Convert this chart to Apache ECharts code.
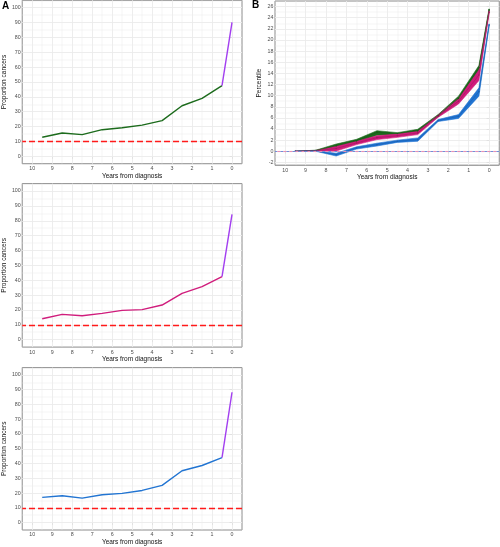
<!DOCTYPE html>
<html lang="en">
<head>
    <meta charset="UTF-8">
    <title>Years from diagnosis</title>
    <script src="https://cdn.jsdelivr.net/npm/echarts@6/dist/echarts.min.js"></script>
    <style>
        html, body { margin: 0; padding: 0; background: #fff; }
        #main { width: 500px; height: 547px; }
    </style>
</head>
<body>
<div id="main"></div>
<script>
    // panel A: proportion of cancers, one point per year before diagnosis
    const yearsA = [9.5, 8.5, 7.5, 6.5, 5.5, 4.5, 3.5, 2.5, 1.5, 0.5];
    const greenProp = [12.8, 15.7, 14.6, 17.9, 19.2, 21.0, 24.0, 34.0, 39.0, 47.5];
    const pinkProp = [14.1, 17.0, 16.1, 17.7, 19.7, 20.2, 23.3, 31.2, 35.7, 42.4];
    const blueProp = [17.1, 18.2, 16.6, 18.9, 19.8, 21.8, 25.2, 35.1, 38.7, 44.0];
    const finalYear = 0;
    const greenFinal = 90.1;
    const pinkFinal = 84.3;
    const blueFinal = 88.3;
    const chanceLevel = 10;

    // panel B: percentile with ribbons
    const yearsB = [9.5, 8.5, 7.5, 6.5, 5.5, 4.5, 3.5, 2.5, 1.5, 0.5, 0];
    const greenMid = [0, 0.15, 1.0, 1.9, 3.4, 3.2, 3.7, 6.4, 9.5, 15.0, 25.4];
    const greenLo = [0, 0.1, 0.7, 1.6, 2.9, 2.95, 3.45, 6.2, 9.1, 14.4, 25.2];
    const greenHi = [0, 0.2, 1.3, 2.15, 3.7, 3.35, 3.95, 6.6, 9.9, 15.4, 25.6];
    const pinkMid = [0, 0.1, 0.5, 1.5, 2.45, 2.8, 3.3, 6.3, 9.0, 13.7, 25.0];
    const pinkLo = [0, 0.05, 0.05, 1.2, 2.1, 2.5, 3.0, 6.1, 8.5, 12.7, 24.7];
    const pinkHi = [0, 0.15, 0.9, 1.8, 2.8, 3.1, 3.6, 6.5, 9.5, 14.6, 25.3];
    const blueMid = [0, 0.05, -0.6, 0.6, 1.2, 1.8, 2.1, 5.5, 6.3, 10.7, 22.7];
    const blueLo = [0, 0, -0.85, 0.4, 0.95, 1.6, 1.8, 5.35, 5.9, 9.9, 22.5];
    const blueHi = [0, 0.1, -0.35, 0.8, 1.45, 2.0, 2.4, 5.7, 6.6, 11.4, 22.9];

    // tick labels
    const yearTicks = [10, 9, 8, 7, 6, 5, 4, 3, 2, 1, 0];
    const yearMinor = [10.5, 9.5, 8.5, 7.5, 6.5, 5.5, 4.5, 3.5, 2.5, 1.5, 0.5, -0.5];
    const propTicks = [0, 10, 20, 30, 40, 50, 60, 70, 80, 90, 100];
    const propMinor = [-5, 5, 15, 25, 35, 45, 55, 65, 75, 85, 95, 105];
    const pctTicks = [-2, 0, 2, 4, 6, 8, 10, 12, 14, 16, 18, 20, 22, 24, 26];
    const pctMinor = [-1, 1, 3, 5, 7, 9, 11, 13, 15, 17, 19, 21, 23, 25, 27];

    const FONT = '"Liberation Sans", Arial, sans-serif';
    const GREEN = '#1c6b1c', PINK = '#d01c7c', BLUE = '#2174d2', PURPLE = '#a23ef0';

    var chartDom = document.getElementById('main');
    var myChart = echarts.init(chartDom, null, {renderer: 'canvas'});

    var grids = [
        {left: 20.7, top: 0.3, width: 221.3, height: 163.4},
        {left: 20.7, top: 183.6, width: 221.3, height: 163.5},
        {left: 20.7, top: 367.6, width: 221.3, height: 163.1},
        {left: 275, top: 1, width: 224.3, height: 164.2}
    ].map(function (g) {
        return Object.assign({show: true, backgroundColor: '#fff', borderColor: '#555', borderWidth: 0.8}, g);
    });

    function xAxisFor(i) {
        return {
            type: 'value', gridIndex: i, min: -0.5, max: 10.5, inverse: true,
            name: 'Years from diagnosis', nameLocation: 'middle', nameGap: 9,
            nameTextStyle: {fontFamily: FONT, fontSize: 6.5, color: '#111'},
            axisLine: {show: false},
            axisTick: {show: true, length: 2.5, customValues: yearTicks, lineStyle: {color: '#333', width: 0.6}},
            axisLabel: {customValues: yearTicks, margin: 2.5, fontFamily: FONT, fontSize: 5.3, color: '#4d4d4d'},
            splitLine: {show: false}
        };
    }

    function yAxisFor(i, min, max, ticks, name, gap) {
        return {
            type: 'value', gridIndex: i, min: min, max: max,
            name: name, nameLocation: 'middle', nameGap: gap,
            nameTextStyle: {fontFamily: FONT, fontSize: 6.5, color: '#111'},
            axisLine: {show: false},
            axisTick: {show: true, length: 2.5, customValues: ticks, lineStyle: {color: '#333', width: 0.6}},
            axisLabel: {customValues: ticks, margin: 1.5, fontFamily: FONT, fontSize: 5.3, color: '#4d4d4d'},
            splitLine: {show: false}
        };
    }

    // background grid lines, drawn through the axes with markLine
    function gridLines(i, xMajor, xMinor, yMajor, yMinor) {
        var data = [];
        xMinor.forEach(function (v) { data.push({xAxis: v, lineStyle: {width: 0.45}}); });
        yMinor.forEach(function (v) { data.push({yAxis: v, lineStyle: {width: 0.45}}); });
        xMajor.forEach(function (v) { data.push({xAxis: v, lineStyle: {width: 0.9}}); });
        yMajor.forEach(function (v) { data.push({yAxis: v, lineStyle: {width: 0.9}}); });
        return {
            type: 'line', xAxisIndex: i, yAxisIndex: i, data: [], z: 1, silent: true,
            markLine: {
                silent: true, symbol: 'none', animation: false, z: 1,
                label: {show: false},
                lineStyle: {color: '#ebebeb', type: 'solid'},
                emphasis: {disabled: true},
                data: data
            }
        };
    }

    function propSeries(i, values, final, color) {
        var pts = yearsA.map(function (x, k) { return [x, values[k]]; });
        var last = pts[pts.length - 1];
        return [
            {
                type: 'line', xAxisIndex: i, yAxisIndex: i, data: pts, z: 10,
                showSymbol: false, animation: false,
                lineStyle: {color: color, width: 1.4}
            },
            {
                type: 'line', xAxisIndex: i, yAxisIndex: i, data: [last, [finalYear, final]], z: 10,
                showSymbol: false, animation: false,
                lineStyle: {color: PURPLE, width: 1.4},
                markLine: {
                    silent: true, symbol: 'none', animation: false, z: 20,
                    label: {show: false},
                    lineStyle: {color: '#ff1a1a', type: [6, 3], width: 1.3},
                    data: [{yAxis: chanceLevel}]
                }
            }
        ];
    }

    function ribbon(lo, hi, color) {
        return {
            type: 'custom', xAxisIndex: 3, yAxisIndex: 3, z: 10, animation: false,
            data: yearsB.map(function (x, k) { return [x, lo[k], hi[k]]; }),
            encode: {x: 0, y: [1, 2]},
            renderItem: function (params, api) {
                if (params.dataIndex !== 0) return null;
                var pts = [];
                for (var k = 0; k < yearsB.length; k++) pts.push(api.coord([yearsB[k], hi[k]]));
                for (var k = yearsB.length - 1; k >= 0; k--) pts.push(api.coord([yearsB[k], lo[k]]));
                return {type: 'polygon', shape: {points: pts}, style: {fill: color, stroke: color, lineWidth: 0.6}};
            }
        };
    }

    function midLine(mid, color) {
        return {
            type: 'line', xAxisIndex: 3, yAxisIndex: 3, z: 11, animation: false,
            data: yearsB.map(function (x, k) { return [x, mid[k]]; }),
            symbol: 'circle', symbolSize: 1.6, itemStyle: {color: color},
            lineStyle: {color: color, width: 0.6}
        };
    }

    var series = [
        gridLines(0, yearTicks, yearMinor, propTicks, propMinor),
        gridLines(1, yearTicks, yearMinor, propTicks, propMinor),
        gridLines(2, yearTicks, yearMinor, propTicks, propMinor),
        gridLines(3, yearTicks, yearMinor, pctTicks, pctMinor)
    ].concat(
        propSeries(0, greenProp, greenFinal, GREEN),
        propSeries(1, pinkProp, pinkFinal, PINK),
        propSeries(2, blueProp, blueFinal, BLUE),
        [
            ribbon(greenLo, greenHi, GREEN),
            ribbon(pinkLo, pinkHi, PINK),
            ribbon(blueLo, blueHi, BLUE),
            midLine(greenMid, '#175a17'),
            midLine(pinkMid, '#a3175f'),
            midLine(blueMid, '#1a5fb0'),
            {
                type: 'line', xAxisIndex: 3, yAxisIndex: 3, data: [], z: 20,
                markLine: {
                    silent: true, symbol: 'none', animation: false, z: 20,
                    label: {show: false},
                    data: [
                        {yAxis: 0, lineStyle: {color: '#6f8fd8', type: [3, 3], width: 1.1}},
                        {yAxis: 0, lineStyle: {color: '#e68fb5', type: [3, 3], dashOffset: 3, width: 1.1}}
                    ]
                }
            }
        ]
    );

    var option = {
        animation: false,
        backgroundColor: '#fff',
        grid: grids,
        xAxis: [xAxisFor(0), xAxisFor(1), xAxisFor(2), xAxisFor(3)],
        yAxis: [
            yAxisFor(0, -5, 105, propTicks, 'Proportion cancers', 10.5),
            yAxisFor(1, -5, 105, propTicks, 'Proportion cancers', 10.5),
            yAxisFor(2, -5, 105, propTicks, 'Proportion cancers', 10.5),
            yAxisFor(3, -2.5, 27, pctTicks, 'Percentile', 12.3)
        ],
        graphic: [
            {type: 'text', left: 2, top: 1, style: {text: 'A', font: 'bold 10px ' + FONT, fill: '#000'}},
            {type: 'text', left: 252, top: 0, style: {text: 'B', font: 'bold 10px ' + FONT, fill: '#000'}}
        ],
        series: series
    };
    option && myChart.setOption(option);
</script>
</body>
</html>
